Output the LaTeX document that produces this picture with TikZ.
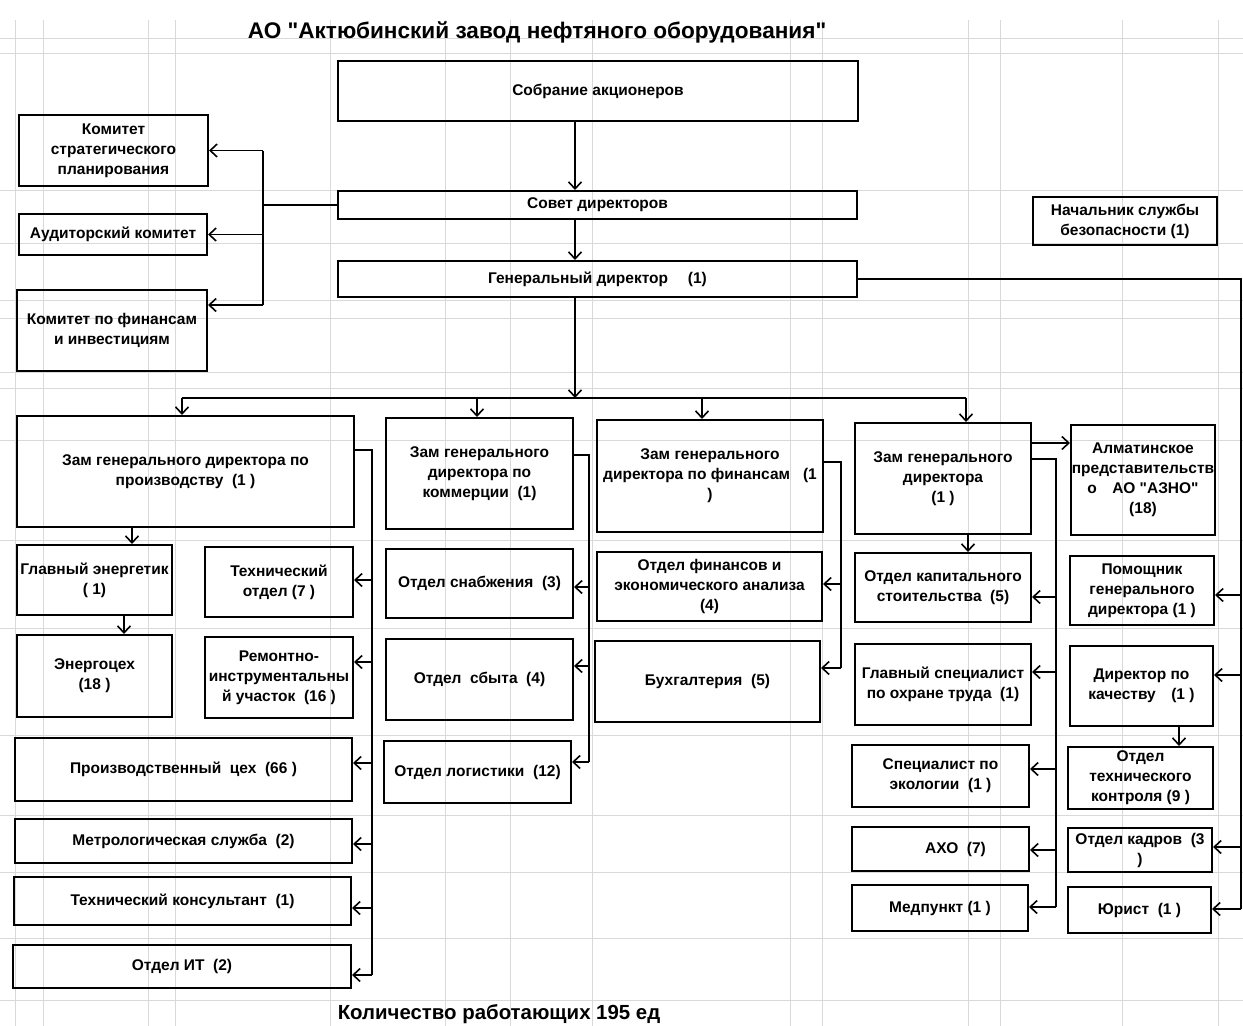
\documentclass[tikz,border=0pt]{standalone}
\usepackage{fontspec}
\newfontfamily\lsans{Liberation Sans}
\usetikzlibrary{arrows.meta}
\newcommand\boxfont{\lsans\fontsize{15.5}{20}\selectfont\bfseries}
\newcommand\mkbox[6]{\node[box, minimum width={#4pt-#2pt}, minimum height={#5pt-#3pt}] (#1) at ({(#2+#4)/2},{(#3+#5)/2}) {#6};}
\begin{document}
\begin{tikzpicture}[x=1pt,y=-1pt,
  box/.style={draw=black, line width=2pt, align=center, inner sep=0.5pt, font=\boxfont, text=black},
  arr/.style={line width=1.6pt, -{Straight Barb[length=7pt,width=13pt]}},
  ln/.style={line width=1.6pt},
  gridln/.style={gray!30, line width=0.6pt}]
\useasboundingbox (0,0) rectangle (1243,1026);
\fill[white] (0,0) rectangle (1243,1026);
% spreadsheet grid
\foreach \gx in {15,43,148,175,330,445,510,592,790,822,968,1000,1122,1218}
  \draw[gridln] (\gx,20) -- (\gx,1026);
\foreach \gy in {38,53,190,243,300,318,372,388,440,540,628,735,815,872,938,1000}
  \draw[gridln] (0,\gy) -- (1243,\gy);
% title and footer
\node[font=\lsans\fontsize{22.6}{26}\selectfont\bfseries] (title) at (537,32) {АО "Актюбинский завод нефтяного оборудования"};
\node[font=\lsans\fontsize{20.4}{24}\selectfont\bfseries] (footer) at (499,1014) {Количество работающих 195 ед};
% boxes
\mkbox{sobr}{338}{61}{858}{121}{Собрание акционеров}
\mkbox{sovet}{338}{191}{857}{219}{Совет директоров}
\mkbox{gendir}{338}{261}{857}{297}{Генеральный директор\quad\ (1)}
\mkbox{kstrat}{19}{115}{208}{186}{Комитет\\стратегического\\планирования}
\mkbox{kaud}{19}{214}{207}{255}{Аудиторский комитет}
\mkbox{kfin}{17}{290}{207}{371}{Комитет по финансам\\и инвестициям}
\mkbox{nsb}{1033}{197}{1217}{245}{Начальник службы\\безопасности (1)}
\mkbox{zprod}{17}{416}{354}{527}{Зам генерального директора по\\производству\ \ (1 )}
\mkbox{zcom}{386}{418}{573}{529}{Зам генерального\\директора по\\коммерции\ \ (1)}
\mkbox{zfin}{597}{420}{823}{532}{Зам генерального\\директора по финансам\ \ \ (1\\)}
\mkbox{zgd}{855}{423}{1031}{534}{Зам генерального\\директора\\(1 )}
\mkbox{alm}{1071}{425}{1215}{535}{Алматинское\\представительств\\о\quad АО "АЗНО"\\(18)}
\mkbox{glen}{17}{545}{172}{615}{Главный энергетик\\( 1)}
\mkbox{tech}{205}{547}{353}{617}{Технический\\отдел (7 )}
\mkbox{energ}{17}{635}{172}{717}{Энергоцех\\(18 )}
\mkbox{rem}{205}{637}{353}{718}{Ремонтно-\\инструментальны\\й участок\ \ (16 )}
\mkbox{proizv}{15}{738}{352}{801}{Производственный\ \ цех\ \ (66 )}
\mkbox{metr}{15}{819}{352}{863}{Метрологическая служба\ \ (2)}
\mkbox{tkons}{14}{877}{351}{925}{Технический консультант\ \ (1)}
\mkbox{it}{13}{945}{351}{988}{Отдел ИТ\ \ (2)}
\mkbox{snab}{386}{549}{573}{618}{Отдел снабжения\ \ (3)}
\mkbox{sbyt}{386}{639}{573}{720}{Отдел\ \ сбыта\ \ (4)}
\mkbox{log}{384}{741}{571}{803}{Отдел логистики\ \ (12)}
\mkbox{ofin}{597}{552}{822}{621}{Отдел финансов и\\экономического анализа\\(4)}
\mkbox{buh}{595}{641}{820}{722}{Бухгалтерия\ \ (5)}
\mkbox{kap}{855}{553}{1031}{622}{Отдел капитального\\стоительства\ \ (5)}
\mkbox{ohr}{855}{644}{1031}{725}{Главный специалист\\по охране труда\ \ (1)}
\mkbox{eco}{852}{745}{1029}{807}{Специалист по\\экологии\ \ (1 )}
\mkbox{aho}{852}{827}{1029}{871}{\hspace*{30pt}АХО\ \ (7)}
\mkbox{med}{852}{885}{1028}{931}{Медпункт\ (1 )}
\mkbox{pom}{1070}{556}{1214}{625}{Помощник\\генерального\\директора (1 )}
\mkbox{dirk}{1070}{646}{1213}{726}{Директор по\\качеству\quad (1 )}
\mkbox{otk}{1068}{747}{1213}{809}{Отдел\\технического\\контроля (9 )}
\mkbox{kadr}{1068}{828}{1212}{872}{Отдел кадров\ \ (3\\)}
\mkbox{yur}{1068}{887}{1211}{933}{Юрист\ \ (1 )}
% junction coordinates
\coordinate (trunk) at (575,0);
\coordinate (busc) at (575,398);
\coordinate (busL) at (182,398);
\coordinate (busR) at (966,398);
\coordinate (b2) at (477,398);
\coordinate (b3) at (702,398);
\coordinate (cx) at (263,205);
\coordinate (k305) at (263,305);
\coordinate (rx) at (1241,279);
\coordinate (px) at (372,450);
\coordinate (qx) at (589,455);
\coordinate (fx) at (841,462);
\coordinate (gx) at (1056,459);
% main trunk
\draw[arr] (sobr.south -| trunk) -- (sovet.north -| trunk);
\draw[arr] (sovet.south -| trunk) -- (gendir.north -| trunk);
\draw[arr] (gendir.south -| trunk) -- (busc);
\draw[ln] (busL) -- (busR);
\draw[arr] (busL) -- (zprod.north -| busL);
\draw[arr] (b2) -- (zcom.north -| b2);
\draw[arr] (b3) -- (zfin.north -| b3);
\draw[arr] (busR) -- (zgd.north -| busR);
% committees
\draw[ln] (sovet.west) -- (cx);
\draw[ln] (cx |- kstrat.east) -- (k305);
\draw[arr] (cx |- kstrat.east) -- (kstrat.east);
\draw[arr] (cx |- kaud.east) -- (kaud.east);
\draw[arr] (k305) -- (kfin.east |- k305);
% general director to right column
\draw[ln] (gendir.east) -- (rx) -- (rx |- 0,909);
\draw[arr] (rx |- 0,595) -- (pom.east |- 0,595);
\draw[arr] (rx |- 0,675) -- (dirk.east |- 0,675);
\draw[arr] (rx |- 0,847) -- (kadr.east |- 0,847);
\draw[arr] (rx |- 0,909) -- (yur.east |- 0,909);
\draw[arr] (dirk.south -| 1179,0) -- (otk.north -| 1179,0);
% production deputy
\draw[arr] (zprod.south -| 132,0) -- (glen.north -| 132,0);
\draw[arr] (glen.south -| 124,0) -- (energ.north -| 124,0);
\draw[ln] (zprod.east |- px) -- (px) -- (px |- 0,975);
\draw[arr] (px |- 0,580) -- (tech.east |- 0,580);
\draw[arr] (px |- 0,662) -- (rem.east |- 0,662);
\draw[arr] (px |- 0,763) -- (proizv.east |- 0,763);
\draw[arr] (px |- 0,844) -- (metr.east |- 0,844);
\draw[arr] (px |- 0,908) -- (tkons.east |- 0,908);
\draw[arr] (px |- 0,975) -- (it.east |- 0,975);
% commerce deputy
\draw[ln] (zcom.east |- qx) -- (qx) -- (qx |- 0,762);
\draw[arr] (qx |- 0,587) -- (snab.east |- 0,587);
\draw[arr] (qx |- 0,666) -- (sbyt.east |- 0,666);
\draw[arr] (qx |- 0,762) -- (log.east |- 0,762);
% finance deputy
\draw[ln] (zfin.east |- fx) -- (fx) -- (fx |- 0,668);
\draw[arr] (fx |- 0,584) -- (ofin.east |- 0,584);
\draw[arr] (fx |- 0,668) -- (buh.east |- 0,668);
% general deputy
\draw[arr] (zgd.east |- 0,443) -- (alm.west |- 0,443);
\draw[arr] (zgd.south -| 968,0) -- (kap.north -| 968,0);
\draw[ln] (zgd.east |- gx) -- (gx) -- (gx |- 0,907);
\draw[arr] (gx |- 0,597) -- (kap.east |- 0,597);
\draw[arr] (gx |- 0,672) -- (ohr.east |- 0,672);
\draw[arr] (gx |- 0,769) -- (eco.east |- 0,769);
\draw[arr] (gx |- 0,850) -- (aho.east |- 0,850);
\draw[arr] (gx |- 0,907) -- (med.east |- 0,907);
\end{tikzpicture}
\end{document}
